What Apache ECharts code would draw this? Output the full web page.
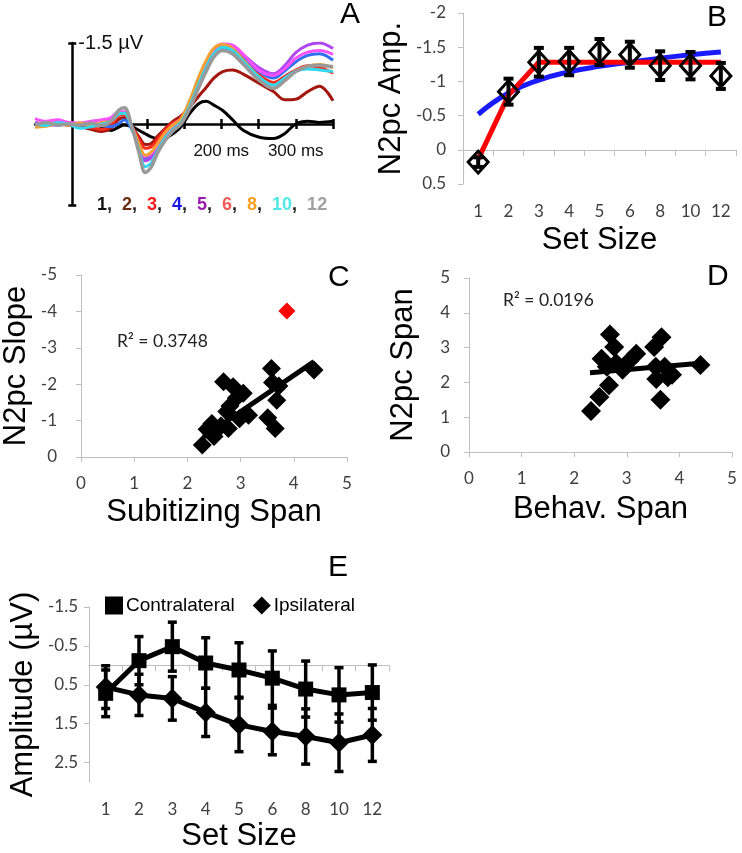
<!DOCTYPE html>
<html><head><meta charset="utf-8">
<script src="https://cdn.jsdelivr.net/npm/echarts@6/dist/echarts.min.js"></script>
<style>html,body{margin:0;padding:0;background:#fff}#c{width:742px;height:853px}</style>
</head><body><div id="c"></div>
<script>
// ---------- Panel A : ERP waveforms ----------
const timesMs = [-50,-35,-20,-5,10,25,40,52,62,70,80,90,98,106,115,125,135,146,158,170,180,190,202,215,230,250,270,285,300,316,332,350];
const wave1  = [0.0,0.02,-0.02,0.0,0.02,0.0,0.05,0.12,0.06,0.02,0.05,0.12,0.18,0.24,0.27,0.26,0.18,0.05,-0.2,-0.38,-0.42,-0.35,-0.25,-0.08,0.12,0.24,0.27,0.18,0.0,-0.05,-0.03,-0.05];
const wave2  = [0.0,0.03,0.0,0.02,0.05,0.1,0.14,0.08,-0.08,-0.12,0.05,0.25,0.38,0.36,0.22,0.08,-0.05,-0.15,-0.32,-0.52,-0.68,-0.85,-0.97,-1.0,-0.92,-0.76,-0.6,-0.45,-0.46,-0.6,-0.7,-0.43];
const wave3  = [0.0,0.02,-0.02,0.02,0.0,0.06,0.1,0.03,-0.15,-0.18,0.05,0.3,0.45,0.42,0.28,0.1,-0.02,-0.1,-0.42,-0.8,-1.1,-1.33,-1.4,-1.35,-1.18,-0.92,-0.77,-0.88,-1.0,-1.08,-1.05,-0.94];
const wave4  = [0.02,0.0,0.02,0.0,0.02,0.0,0.03,0.05,0.0,-0.08,0.1,0.4,0.63,0.58,0.4,0.2,0.05,-0.05,-0.38,-0.78,-1.08,-1.3,-1.37,-1.38,-1.22,-0.98,-0.85,-0.98,-1.15,-1.27,-1.3,-1.18];
const wave5  = [-0.03,0.0,0.02,-0.03,0.0,0.02,-0.03,-0.08,-0.2,-0.22,0.05,0.42,0.68,0.62,0.42,0.2,0.05,-0.08,-0.4,-0.8,-1.1,-1.35,-1.46,-1.45,-1.28,-1.05,-0.93,-1.08,-1.32,-1.46,-1.5,-1.4];
const wave6  = [-0.1,-0.05,-0.08,-0.03,-0.02,-0.05,-0.08,-0.12,-0.22,-0.22,0.05,0.4,0.6,0.55,0.38,0.18,0.02,-0.1,-0.42,-0.82,-1.12,-1.38,-1.48,-1.46,-1.28,-1.0,-0.9,-1.02,-1.22,-1.33,-1.36,-1.29];
const wave8  = [0.06,0.04,0.0,0.02,-0.02,0.02,-0.03,-0.05,-0.18,-0.2,0.05,0.38,0.58,0.52,0.35,0.15,0.02,-0.1,-0.45,-0.88,-1.18,-1.4,-1.47,-1.4,-1.18,-0.88,-0.66,-0.8,-0.98,-1.07,-1.1,-1.04];
const wave10 = [0.0,0.03,-0.03,0.0,0.08,0.05,0.0,-0.05,-0.18,-0.2,0.08,0.5,0.79,0.72,0.48,0.25,0.1,-0.03,-0.35,-0.75,-1.05,-1.3,-1.42,-1.36,-1.15,-0.88,-0.72,-0.85,-0.98,-1.02,-1.0,-0.97];
const wave12 = [0.02,-0.03,0.02,0.0,0.02,-0.02,0.03,-0.05,-0.25,-0.3,0.05,0.55,0.9,0.8,0.52,0.3,0.13,0.0,-0.3,-0.68,-0.98,-1.24,-1.36,-1.3,-1.1,-0.82,-0.66,-0.8,-0.97,-1.07,-1.09,-1.06];
const waveLabels = ['1','2','3','4','5','6','8','10','12'];
const timeTicks = [100,150,200,250,300,350];
const timeLabels = [200,300];

// ---------- Panel B : N2pc amplitude by set size ----------
const setSizes = ['1','2','3','4','5','6','8','10','12'];
const n2pcAmp = [0.18,-0.85,-1.28,-1.29,-1.43,-1.39,-1.23,-1.23,-1.08];
const n2pcErr = [0.07,0.19,0.21,0.2,0.19,0.19,0.21,0.2,0.19];
const bilinearFit = [0.14,-0.80,-1.28,-1.28,-1.28,-1.28,-1.28,-1.28,-1.28];
const logFit = [-0.52,-0.83,-1.02,-1.14,-1.22,-1.28,-1.34,-1.39,-1.43];

// ---------- Panel C : N2pc slope vs subitizing span ----------
const subitizingSpan = [2.28,2.37,2.50,2.46,2.63,2.77,2.68,2.74,2.80,2.86,2.92,2.98,3.05,3.15,3.51,3.58,3.60,3.65,3.68,3.72,4.38];
const n2pcSlope      = [-0.33,-0.76,-0.56,-0.92,-0.85,-0.78,-2.07,-1.25,-1.40,-1.93,-1.62,-1.05,-1.75,-1.15,-1.08,-2.43,-2.05,-0.78,-1.56,-1.95,-2.39];
const outlierSpan = [3.87];
const outlierSlope = [-4.01];
const slopeTrendX = [2.30, 4.38];
const slopeTrendY = [-0.55, -2.62];
const slopeR2 = 'R² = 0.3748';

// ---------- Panel D : N2pc span vs behavioural span ----------
const behavSpan = [2.32,2.48,2.66,2.52,2.68,2.76,2.80,2.92,3.05,3.18,2.62,3.52,3.66,3.55,3.56,3.72,3.86,3.78,3.64,4.40];
const n2pcSpan  = [1.18,1.58,1.92,2.68,3.38,3.02,2.55,2.36,2.62,2.82,2.45,3.02,3.30,2.45,2.10,2.45,2.22,2.15,1.50,2.50];
const spanTrendX = [2.30, 4.40];
const spanTrendY = [2.28, 2.55];
const spanR2 = 'R² = 0.0196';

// ---------- Panel E : contra / ipsi amplitudes ----------
const contraAmp = [0.72,-0.12,-0.48,-0.06,0.12,0.33,0.61,0.76,0.70];
const contraErr = [0.60,0.62,0.63,0.65,0.70,0.70,0.72,0.70,0.71];
const ipsiAmp   = [0.56,0.76,0.85,1.21,1.53,1.70,1.83,1.99,1.79];
const ipsiErr   = [0.55,0.53,0.56,0.62,0.69,0.60,0.71,0.74,0.68];
const ampTicks  = [-1.5,-0.5,0.5,1.5,2.5];

// ---------- styling ----------
const AR = '"Liberation Sans", Arial, Helvetica, sans-serif';
const CB = 'Lato, "Open Sans", sans-serif';
const GL = '#bfbfbf';
const TT = '#404040';
const waveColors  = ['#000000','#a3170e','#ff2a1a','#2f6ef0','#b048f0','#ff50ff','#f5a030','#30d8f0','#999999'];
const labelColors = ['#111111','#6b2e12','#ff1a1a','#1a1ae6','#9a1ab0','#f05a5a','#f7a020','#50e8e8','#a0a0a0'];
const waves = [wave1,wave2,wave3,wave4,wave5,wave6,wave8,wave10,wave12];

// Panel A frame: time -50..350 ms across 298 px, amplitude -1.5..1.5 over 162 px
const A_LEFT = 35, A_TOP = 43, A_W = 298, A_H = 162;
const A_X0 = A_LEFT + A_W * 50 / 400;       // pixel of t = 0
const A_Y0 = A_TOP + A_H / 2;               // pixel of 0 µV

const chart = echarts.init(document.getElementById('c'), null, {renderer:'canvas'});

function errorBars(xi, yi, cats, vals, errs, capW, lw, z) {
  return {
    type:'custom', xAxisIndex:xi, yAxisIndex:yi, z:z, silent:true,
    data: vals.map((v,i)=>[cats[i], v, errs[i]]),
    renderItem(params, api) {
      const x = api.value(0), v = api.value(1), e = api.value(2);
      const p1 = api.coord([x, v - e]), p2 = api.coord([x, v + e]);
      const st = {stroke:'#000', lineWidth:lw};
      return {type:'group', children:[
        {type:'line', shape:{x1:p1[0],y1:p1[1],x2:p2[0],y2:p2[1]}, style:st},
        {type:'line', shape:{x1:p1[0]-capW/2,y1:p1[1],x2:p1[0]+capW/2,y2:p1[1]}, style:st},
        {type:'line', shape:{x1:p2[0]-capW/2,y1:p2[1],x2:p2[0]+capW/2,y2:p2[1]}, style:st}
      ]};
    }
  };
}
const tickLbl = (m, extra) => Object.assign({color:TT, fontFamily:CB, fontSize:17, margin:m}, extra||{});
const nameStyle = {fontFamily:AR, fontSize:31, color:'#000'};

// A legend rich text
const richA = {};
let textA = '';
waveLabels.forEach((l,i)=>{
  richA['k'+i] = {color:labelColors[i], fontFamily:AR, fontSize:18, fontWeight:'bold'};
  textA += '{k'+i+'|'+l+'}' + (i < waveLabels.length-1 ? '{s|,  }' : '');
});
richA.s = {color:'#222', fontFamily:AR, fontSize:18, fontWeight:'bold'};

const letter = (t,l,tp)=>({text:t, left:l, top:tp, padding:0, textStyle:{fontFamily:AR, fontSize:30, fontWeight:'normal', color:'#000'}});

const option = {
  animation:false,
  backgroundColor:'#fff',
  title:[
    {text:textA, left:97, top:196, padding:0, textStyle:{rich:richA}},
    letter('A',340,0), letter('B',707,3), letter('C',328,263), letter('D',707,262), letter('E',328,553),
    {text:slopeR2, left:117, top:332, padding:0, textStyle:{fontFamily:CB, fontSize:17.5, fontWeight:'normal', color:'#222'}},
    {text:spanR2, left:503, top:291, padding:0, textStyle:{fontFamily:CB, fontSize:17.5, fontWeight:'normal', color:'#222'}}
  ],
  legend:{
    data:[{name:'Contralateral', icon:'rect'},{name:'Ipsilateral', icon:'diamond'}],
    left:105, top:596, itemWidth:18, itemHeight:18, itemGap:18, padding:0,
    textStyle:{fontFamily:AR, fontSize:19, color:'#000', padding:[0,0,0,-2]}
  },
  grid:[
    {left:A_LEFT, top:A_TOP, width:A_W, height:A_H},
    {left:463, top:13, width:273, height:171},
    {left:79, top:275, width:268, height:182},
    {left:469, top:278, width:263, height:174},
    {left:89, top:607, width:300, height:175}
  ],
  xAxis:[
    // A : baseline axis (ticks pointing up, labels below)
    {gridIndex:0, type:'value', min:-50, max:350, position:'bottom', offset:-(A_TOP + A_H - A_Y0),
      axisLine:{show:true, onZero:false, lineStyle:{color:'#000', width:2.5}},
      axisTick:{show:true, inside:true, length:5, customValues:timeTicks, lineStyle:{color:'#000', width:2.5}},
      axisLabel:{show:true, customValues:timeLabels, formatter:v=>v+' ms', color:'#111', fontFamily:AR, fontSize:17, margin:19},
      splitLine:{show:false}},
    // A : same baseline, ticks pointing down
    {gridIndex:0, type:'value', min:-50, max:350, position:'top', offset:-(A_Y0 - A_TOP),
      axisLine:{show:false, onZero:false},
      axisTick:{show:true, inside:true, length:5, customValues:timeTicks, lineStyle:{color:'#000', width:2.5}},
      axisLabel:{show:false}, splitLine:{show:false}},
    // B
    {gridIndex:1, type:'category', data:setSizes, position:'top',
      axisLine:{show:true, onZero:true, lineStyle:{color:GL, width:1}},
      axisTick:{show:true, inside:true, length:6, lineStyle:{color:GL}},
      axisLabel:{show:false}, splitLine:{show:false}},
    {gridIndex:1, type:'category', data:setSizes, position:'bottom',
      axisLine:{show:false, onZero:false}, axisTick:{show:false},
      axisLabel:tickLbl(19), splitLine:{show:false},
      name:'Set Size', nameLocation:'middle', nameGap:41, nameTextStyle:nameStyle},
    // C
    {gridIndex:2, type:'value', min:0, max:5, interval:1,
      axisLine:{show:true, lineStyle:{color:GL}}, axisTick:{show:true, length:5, lineStyle:{color:GL}},
      axisLabel:tickLbl(18), splitLine:{show:false},
      name:'Subitizing Span', nameLocation:'middle', nameGap:40, nameTextStyle:nameStyle},
    // D
    {gridIndex:3, type:'value', min:0, max:5, interval:1,
      axisLine:{show:true, lineStyle:{color:GL}}, axisTick:{show:true, length:5, lineStyle:{color:GL}},
      axisLabel:tickLbl(18), splitLine:{show:false},
      name:'Behav. Span', nameLocation:'middle', nameGap:42, nameTextStyle:nameStyle},
    // E
    {gridIndex:4, type:'category', data:setSizes, position:'top',
      axisLine:{show:true, onZero:true, lineStyle:{color:GL, width:1}},
      axisTick:{show:true, inside:true, length:6, lineStyle:{color:GL}},
      axisLabel:{show:false}, splitLine:{show:false}},
    {gridIndex:4, type:'category', data:setSizes, position:'bottom',
      axisLine:{show:false, onZero:false}, axisTick:{show:false},
      axisLabel:tickLbl(19), splitLine:{show:false},
      name:'Set Size', nameLocation:'middle', nameGap:39, nameTextStyle:nameStyle}
  ],
  yAxis:[
    // A : vertical axis at t = 0
    {gridIndex:0, type:'value', min:-1.5, max:1.5, inverse:true, position:'left', offset:-(A_X0 - A_LEFT),
      axisLine:{show:true, onZero:false, lineStyle:{color:'#000', width:2.5}},
      axisTick:{show:true, length:4, customValues:[-1.5,1.5], lineStyle:{color:'#000', width:2.5}},
      axisLabel:{show:false}, splitLine:{show:false}},
    {gridIndex:0, type:'value', min:-1.5, max:1.5, inverse:true, position:'right', offset:-(A_LEFT + A_W - A_X0),
      axisLine:{show:false, onZero:false},
      axisTick:{show:true, length:4, customValues:[-1.5,1.5], lineStyle:{color:'#000', width:2.5}},
      axisLabel:{show:true, customValues:[-1.5], formatter:()=>'-1.5 µV', color:'#111', fontFamily:AR, fontSize:20, margin:6},
      splitLine:{show:false}},
    // B
    {gridIndex:1, type:'value', min:-2, max:0.5, interval:0.5, inverse:true,
      axisLine:{show:true, lineStyle:{color:GL}}, axisTick:{show:true, length:5, lineStyle:{color:GL}},
      axisLabel:tickLbl(17), splitLine:{show:false},
      name:'N2pc Amp.', nameLocation:'middle', nameRotate:90, nameGap:56, nameTextStyle:nameStyle},
    // C
    {gridIndex:2, type:'value', min:-5, max:0, interval:1, inverse:true,
      axisLine:{show:true, lineStyle:{color:GL}}, axisTick:{show:true, length:5, lineStyle:{color:GL}},
      axisLabel:tickLbl(24), splitLine:{show:false},
      name:'N2pc Slope', nameLocation:'middle', nameRotate:90, nameGap:49, nameTextStyle:nameStyle},
    // D
    {gridIndex:3, type:'value', min:0, max:5, interval:1,
      axisLine:{show:true, lineStyle:{color:GL}}, axisTick:{show:true, length:5, lineStyle:{color:GL}},
      axisLabel:tickLbl(19), splitLine:{show:false},
      name:'N2pc Span', nameLocation:'middle', nameRotate:90, nameGap:50, nameTextStyle:nameStyle},
    // E
    {gridIndex:4, type:'value', min:-1.5, max:3, inverse:true,
      axisLine:{show:true, lineStyle:{color:GL}},
      axisTick:{show:true, length:5, customValues:ampTicks, lineStyle:{color:GL}},
      axisLabel:tickLbl(11, {customValues:ampTicks}), splitLine:{show:false},
      name:'Amplitude (µV)', nameLocation:'middle', nameRotate:90, nameGap:50, nameTextStyle:nameStyle}
  ],
  series:[]
};

// A waves
waves.forEach((w,i)=>{
  option.series.push({
    type:'line', name:'SS'+waveLabels[i], xAxisIndex:0, yAxisIndex:0, z:3+i*0.01,
    data: timesMs.map((t,k)=>[t, w[k]]),
    showSymbol:false, smooth:0.35,
    lineStyle:{color:waveColors[i], width: i===8 ? 3.5 : 3}
  });
});
// B
option.series.push({type:'line', xAxisIndex:2, yAxisIndex:2, data:logFit, showSymbol:false, smooth:true, z:2,
  lineStyle:{color:'#1a1aff', width:5}});
option.series.push({type:'line', xAxisIndex:2, yAxisIndex:2, data:bilinearFit, showSymbol:false, smooth:false, z:2,
  lineStyle:{color:'#ff0000', width:5, join:'round'}});
option.series.push(errorBars(2, 2, setSizes, n2pcAmp, n2pcErr, 10, 4, 3));
option.series.push({type:'scatter', xAxisIndex:2, yAxisIndex:2, z:4,
  data: setSizes.map((s,i)=>[s, n2pcAmp[i]]), symbol:'diamond', symbolSize:[20,22],
  itemStyle:{color:'rgba(0,0,0,0)', borderColor:'#000', borderWidth:3, opacity:1}});
// C
option.series.push({type:'line', xAxisIndex:4, yAxisIndex:3, data:slopeTrendX.map((x,i)=>[x, slopeTrendY[i]]),
  showSymbol:false, lineStyle:{color:'#000', width:5}, z:2});
option.series.push({type:'scatter', xAxisIndex:4, yAxisIndex:3, data:subitizingSpan.map((x,i)=>[x, n2pcSlope[i]]),
  symbol:'diamond', symbolSize:19, itemStyle:{color:'#000', opacity:1}, z:3});
option.series.push({type:'scatter', xAxisIndex:4, yAxisIndex:3, data:outlierSpan.map((x,i)=>[x, outlierSlope[i]]),
  symbol:'diamond', symbolSize:17, itemStyle:{color:'#ff0000', opacity:1}, z:3});
// D
option.series.push({type:'line', xAxisIndex:5, yAxisIndex:4, data:spanTrendX.map((x,i)=>[x, spanTrendY[i]]),
  showSymbol:false, lineStyle:{color:'#000', width:5}, z:2});
option.series.push({type:'scatter', xAxisIndex:5, yAxisIndex:4, data:behavSpan.map((x,i)=>[x, n2pcSpan[i]]),
  symbol:'diamond', symbolSize:20, itemStyle:{color:'#000', opacity:1}, z:3});
// E
option.series.push(errorBars(6, 5, setSizes, contraAmp, contraErr, 9, 3.5, 2));
option.series.push(errorBars(6, 5, setSizes, ipsiAmp, ipsiErr, 9, 3.5, 2));
option.series.push({type:'line', name:'Contralateral', xAxisIndex:6, yAxisIndex:5, data:contraAmp,
  symbol:'rect', symbolSize:15, showSymbol:true, lineStyle:{color:'#000', width:5}, itemStyle:{color:'#000'}, z:3});
option.series.push({type:'line', name:'Ipsilateral', xAxisIndex:6, yAxisIndex:5, data:ipsiAmp,
  symbol:'diamond', symbolSize:20, showSymbol:true, lineStyle:{color:'#000', width:5}, itemStyle:{color:'#000'}, z:3});

chart.setOption(option);
</script>
</body></html>
